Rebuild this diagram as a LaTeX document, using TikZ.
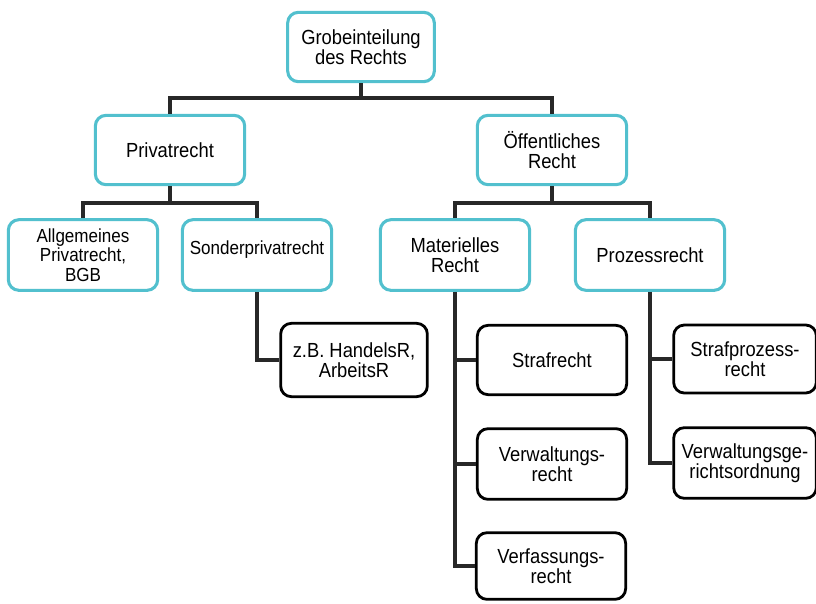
\documentclass[tikz,border=0pt]{standalone}
\usepackage{fontspec}
\setmainfont[FakeStretch=0.9]{Liberation Sans}
\usetikzlibrary{positioning,calc}
\definecolor{rahmen}{RGB}{82,192,206}
\definecolor{linie}{RGB}{40,40,40}
\tikzset{
	%
	hauptbox/.style={
		rectangle, minimum width=112pt, minimum height=52pt, rounded corners=8pt,
		line width=2.3pt, draw=rahmen, fill=white, align=center, inner sep=2pt,
		font=\fontsize{15.3}{15}\selectfont
	},
	%
	kleinbox/.style={
		hauptbox, font=\fontsize{14.2}{14.6}\selectfont
	},
	%
	blattbox/.style={
		hauptbox, draw=black, line width=2.1pt
	},
	%
	verbindung/.style={
		line width=2.6pt, draw=linie
	}
}

\begin{document}
\begin{tikzpicture}[x=0.75pt,y=-0.75pt]
\useasboundingbox (0,0) rectangle (816,603);
%boxes
\node (Grob) [hauptbox, minimum width=110pt] at (361,47) {Grobeinteilung\\des Rechts};
\node (Privat) [hauptbox] at (170,150) {Privatrecht};
\node (Oeff) [hauptbox] at (552,150) {Öffentliches\\Recht};

\node (Allg) [kleinbox, minimum height=53pt] at (83,255) {Allgemeines\\Privatrecht,\\BGB};
\node (Sonder) [kleinbox, minimum height=53pt] at (257,255) {\raisebox{10.5pt}{Sonderprivatrecht}};
\node (Mat) [hauptbox, minimum height=53pt] at (455,255) {Materielles\\Recht};
\node (Proz) [hauptbox, minimum height=53pt] at (650,255) {Prozessrecht};

\node (zB) [blattbox, minimum width=110pt, minimum height=55pt] at (354,360) {z.B. HandelsR,\\ArbeitsR};
\node (Straf) [blattbox] at (552,360) {Strafrecht};
\node (Verw) [blattbox, minimum height=53pt] at (552,464) {Verwaltungs-\\recht};
\node (Verf) [blattbox, minimum height=50pt] at (551,566) {Verfassungs-\\recht};
\node (StrafP) [blattbox, minimum width=107pt, minimum height=51pt] at (745,359) {Strafprozess-\\recht};
\node (VGO) [blattbox, minimum width=107pt, minimum height=53pt] at (745,463) {Verwaltungsge-\\richtsordnung};

%connectors
\coordinate (bus1) at (361,98);
\coordinate (bus2) at (170,203);
\coordinate (bus3) at (552,203);

\draw[verbindung] (Grob.south) -- (bus1);
\draw[verbindung] (Privat.north) |- (bus1) -| (Oeff.north);

\draw[verbindung] (Privat.south) -- (bus2);
\draw[verbindung] (Allg.north) |- (bus2) -| (Sonder.north);
\draw[verbindung] (Oeff.south) -- (bus3);
\draw[verbindung] (Mat.north) |- (bus3) -| (Proz.north);

\draw[verbindung] (Sonder.south) |- (zB.west);

\draw[verbindung] (Mat.south) |- (Verf.west);
\draw[verbindung] (Mat.south |- Straf.west) -- (Straf.west);
\draw[verbindung] (Mat.south |- Verw.west) -- (Verw.west);

\draw[verbindung] (Proz.south) |- (VGO.west);
\draw[verbindung] (Proz.south |- StrafP.west) -- (StrafP.west);
\end{tikzpicture}
\end{document}
